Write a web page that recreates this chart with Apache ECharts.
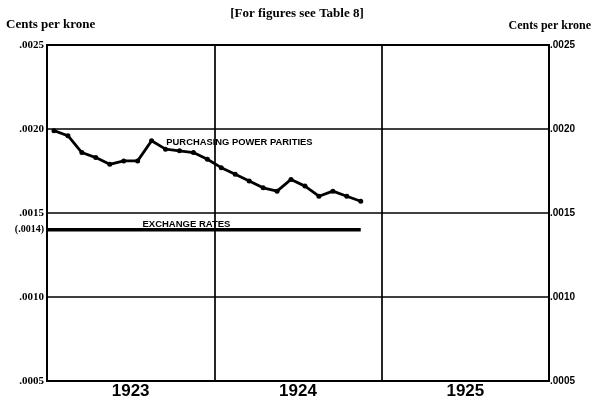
<!DOCTYPE html>
<html><head><meta charset="utf-8">
<script src="https://cdn.jsdelivr.net/npm/echarts@6/dist/echarts.min.js"></script>
<style>html,body{margin:0;padding:0;background:#fff}#c{width:596px;height:401px}</style>
</head><body><div id="c"></div>
<script>
// Years shown on the x axis
const years = ['1923', '1924', '1925'];
// Monthly purchasing power parities, Jan 1923 .. Nov 1924 (cents per krone)
const pppMonths = ['1923-01','1923-02','1923-03','1923-04','1923-05','1923-06','1923-07','1923-08','1923-09','1923-10','1923-11','1923-12',
                   '1924-01','1924-02','1924-03','1924-04','1924-05','1924-06','1924-07','1924-08','1924-09','1924-10','1924-11'];
const pppValues = [0.00199, 0.00196, 0.00186, 0.00183, 0.00179, 0.00181, 0.00181, 0.00193, 0.00188, 0.00187, 0.00186, 0.00182,
                   0.00177, 0.00173, 0.00169, 0.00165, 0.00163, 0.00170, 0.00166, 0.00160, 0.00163, 0.00160, 0.00157];
// Exchange rate (pegged), same period
const exchangeValues = pppValues.map(() => 0.0014);
// Y ticks
const yTicks = [0.0005, 0.0010, 0.0015, 0.0020, 0.0025];

const monthPos = m => { const [y, mo] = m.split('-').map(Number); return (y - 1923) * 12 + (mo - 1) + 0.5; };
const pppData = pppMonths.map((m, i) => [monthPos(m), pppValues[i]]);
const exData = pppMonths.map((m, i) => [i === 0 ? 0 : monthPos(m), exchangeValues[i]]);

const fmtL = v => v.toFixed(4).replace(/^0/, '');
const serif = 'Liberation Serif';
const sans = 'Liberation Sans';

const chart = echarts.init(document.getElementById('c'));
chart.setOption({
  animation: false,
  backgroundColor: '#fff',
  grid: { left: 47, right: 47, top: 45, bottom: 20, show: true, borderColor: '#000', borderWidth: 2, backgroundColor: 'transparent' },
  xAxis: [
    { type: 'value', min: 0, max: 36, interval: 12,
      axisLine: { show: false }, axisTick: { show: false }, axisLabel: { show: false },
      splitLine: { show: true, lineStyle: { color: '#000', width: 1.7 } } },
    { type: 'category', data: years, position: 'bottom', boundaryGap: true,
      axisLine: { show: false }, axisTick: { show: false }, splitLine: { show: false },
      axisLabel: { color: '#000', fontFamily: sans, fontWeight: 'bold', fontSize: 17, margin: 2 } }
  ],
  yAxis: [
    { type: 'value', min: 0.0005, max: 0.0025, interval: 0.0005, position: 'left',
      axisLine: { show: false }, axisTick: { show: false },
      splitLine: { show: true, lineStyle: { color: '#000', width: 1.7 } },
      axisLabel: { color: '#000', fontFamily: serif, fontWeight: 'bold', fontSize: 11, margin: 3, formatter: fmtL } },
    { type: 'value', min: 0.0005, max: 0.0025, interval: 0.0005, position: 'right',
      axisLine: { show: false }, axisTick: { show: false }, splitLine: { show: false },
      axisLabel: { color: '#000', fontFamily: sans, fontWeight: 'bold', fontSize: 10, margin: 1, formatter: fmtL } }
  ],
  series: [
    { name: 'Purchasing power parities', type: 'line', xAxisIndex: 0, yAxisIndex: 0, data: pppData,
      lineStyle: { color: '#000', width: 2.8 }, symbol: 'circle', symbolSize: 5,
      itemStyle: { color: '#000' }, z: 5 },
    { name: 'Exchange rates', type: 'line', xAxisIndex: 0, yAxisIndex: 0, data: exData,
      lineStyle: { color: '#000', width: 3.6 }, symbol: 'none', z: 5 }
  ]
});

// Labels placed through the chart's own coordinate conversion
const p1 = chart.convertToPixel({ xAxisIndex: 0, yAxisIndex: 0 }, [13.8, 0.00192]);
const p2 = chart.convertToPixel({ xAxisIndex: 0, yAxisIndex: 0 }, [10.0, 0.00143]);
const p3 = chart.convertToPixel({ xAxisIndex: 0, yAxisIndex: 0 }, [0, 0.0014]);
chart.setOption({
  graphic: [
    { type: 'text', x: 297, y: 14, style: { text: '[For figures see Table 8]', font: 'bold 13px "Liberation Serif"', fill: '#000', align: 'center', verticalAlign: 'middle' } },
    { type: 'text', x: 6, y: 25, style: { text: 'Cents per krone', font: 'bold 13px "Liberation Serif"', fill: '#000', align: 'left', verticalAlign: 'middle' } },
    { type: 'text', x: 591, y: 26, style: { text: 'Cents per krone', font: 'bold 12px "Liberation Serif"', fill: '#000', align: 'right', verticalAlign: 'middle' } },
    { type: 'text', x: p1[0], y: p1[1], style: { text: 'PURCHASING POWER PARITIES', font: 'bold 9.4px "Liberation Sans"', fill: '#000', align: 'center', verticalAlign: 'middle' } },
    { type: 'text', x: p2[0], y: p2[1], style: { text: 'EXCHANGE RATES', font: 'bold 9.5px "Liberation Sans"', fill: '#000', align: 'center', verticalAlign: 'middle' } },
    { type: 'text', x: p3[0] - 3, y: p3[1], style: { text: '(.0014)', font: 'bold 10px "Liberation Serif"', fill: '#000', align: 'right', verticalAlign: 'middle' } }
  ]
});
</script></body></html>
